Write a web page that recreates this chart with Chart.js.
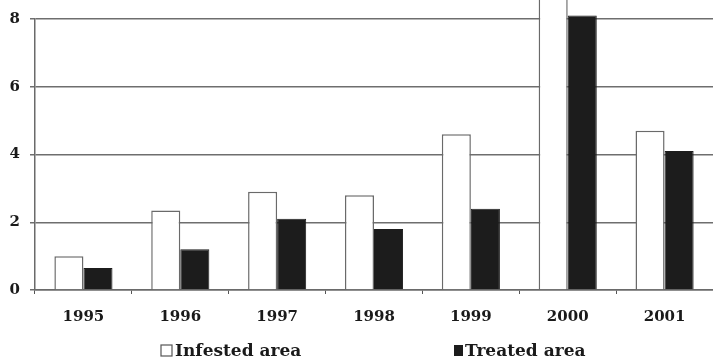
<!DOCTYPE html>
<html>
<head>
<meta charset="utf-8">
<script src="https://cdn.jsdelivr.net/npm/chart.js@4"></script>
<style>
  html, body { margin: 0; padding: 0; background: #fff; }
  #wrap { width: 713px; height: 360px; position: relative; }
</style>
</head>
<body>
<div id="wrap"><canvas id="grafica"></canvas></div>
<script>
// datos
const years = ['1995', '1996', '1997', '1998', '1999', '2000', '2001'];
const infested = [1.0, 2.35, 2.9, 2.8, 4.6, 9.2, 4.7];
const treated = [0.65, 1.2, 2.1, 1.8, 2.4, 8.1, 4.1];
const yTicks = [0, 2, 4, 6, 8];

const fuente = "'DejaVu Serif', serif";

// leyenda dibujada a mano abajo
const leyenda = {
  id: 'leyenda',
  afterDraw(chart) {
    const ctx = chart.ctx;
    ctx.save();
    ctx.font = 'bold 17px ' + fuente;
    ctx.textBaseline = 'middle';
    // Infested area
    ctx.strokeStyle = '#555';
    ctx.lineWidth = 1.2;
    ctx.fillStyle = '#fff';
    ctx.fillRect(161, 345, 11, 11);
    ctx.strokeRect(161, 345, 11, 11);
    ctx.fillStyle = '#1a1a1a';
    ctx.fillText('Infested area', 175, 352);
    // Treated area
    ctx.fillStyle = '#1c1c1c';
    ctx.fillRect(454, 345, 9, 11);
    ctx.fillStyle = '#1a1a1a';
    ctx.fillText('Treated area', 465, 352);
    ctx.restore();
  }
};

const ctx = document.getElementById('grafica').getContext('2d');
new Chart(ctx, {
  type: 'bar',
  data: {
    labels: years,
    datasets: [{
      label: 'Infested area',
      data: infested,
      backgroundColor: '#ffffff',
      borderColor: '#6a6a6a',
      borderWidth: 1.5,
      clip: false,
      categoryPercentage: 0.6,
      barPercentage: 1.0
    }, {
      label: 'Treated area',
      data: treated,
      backgroundColor: '#1c1c1c',
      borderColor: '#1c1c1c',
      borderWidth: 1,
      clip: false,
      categoryPercentage: 0.6,
      barPercentage: 1.0
    }]
  },
  options: {
    responsive: true,
    maintainAspectRatio: false,
    animation: false,
    layout: { padding: { top: 18, right: 0, bottom: 0, left: 0 } },
    plugins: {
      legend: { display: false },
      tooltip: { enabled: false }
    },
    scales: {
      x: {
        grid: { drawOnChartArea: false, drawTicks: true, tickLength: 4, color: '#555' },
        border: { display: true, color: '#6a6a6a', width: 1.5 },
        ticks: { color: '#1a1a1a', padding: 14, font: { family: fuente, weight: 'bold', size: 15 } },
        afterFit(scale) { scale.height = 70; }
      },
      y: {
        min: 0,
        max: 8,
        afterBuildTicks(scale) { scale.ticks = yTicks.map(v => ({ value: v })); },
        grid: { color: '#6e6e6e', lineWidth: 1.5, tickLength: 5 },
        border: { display: true, color: '#6a6a6a', width: 1.5 },
        ticks: { color: '#1a1a1a', padding: 10, font: { family: fuente, weight: 'bold', size: 15 } },
        afterFit(scale) { scale.width = 35; }
      }
    }
  },
  plugins: [leyenda]
});
</script>
</body>
</html>
